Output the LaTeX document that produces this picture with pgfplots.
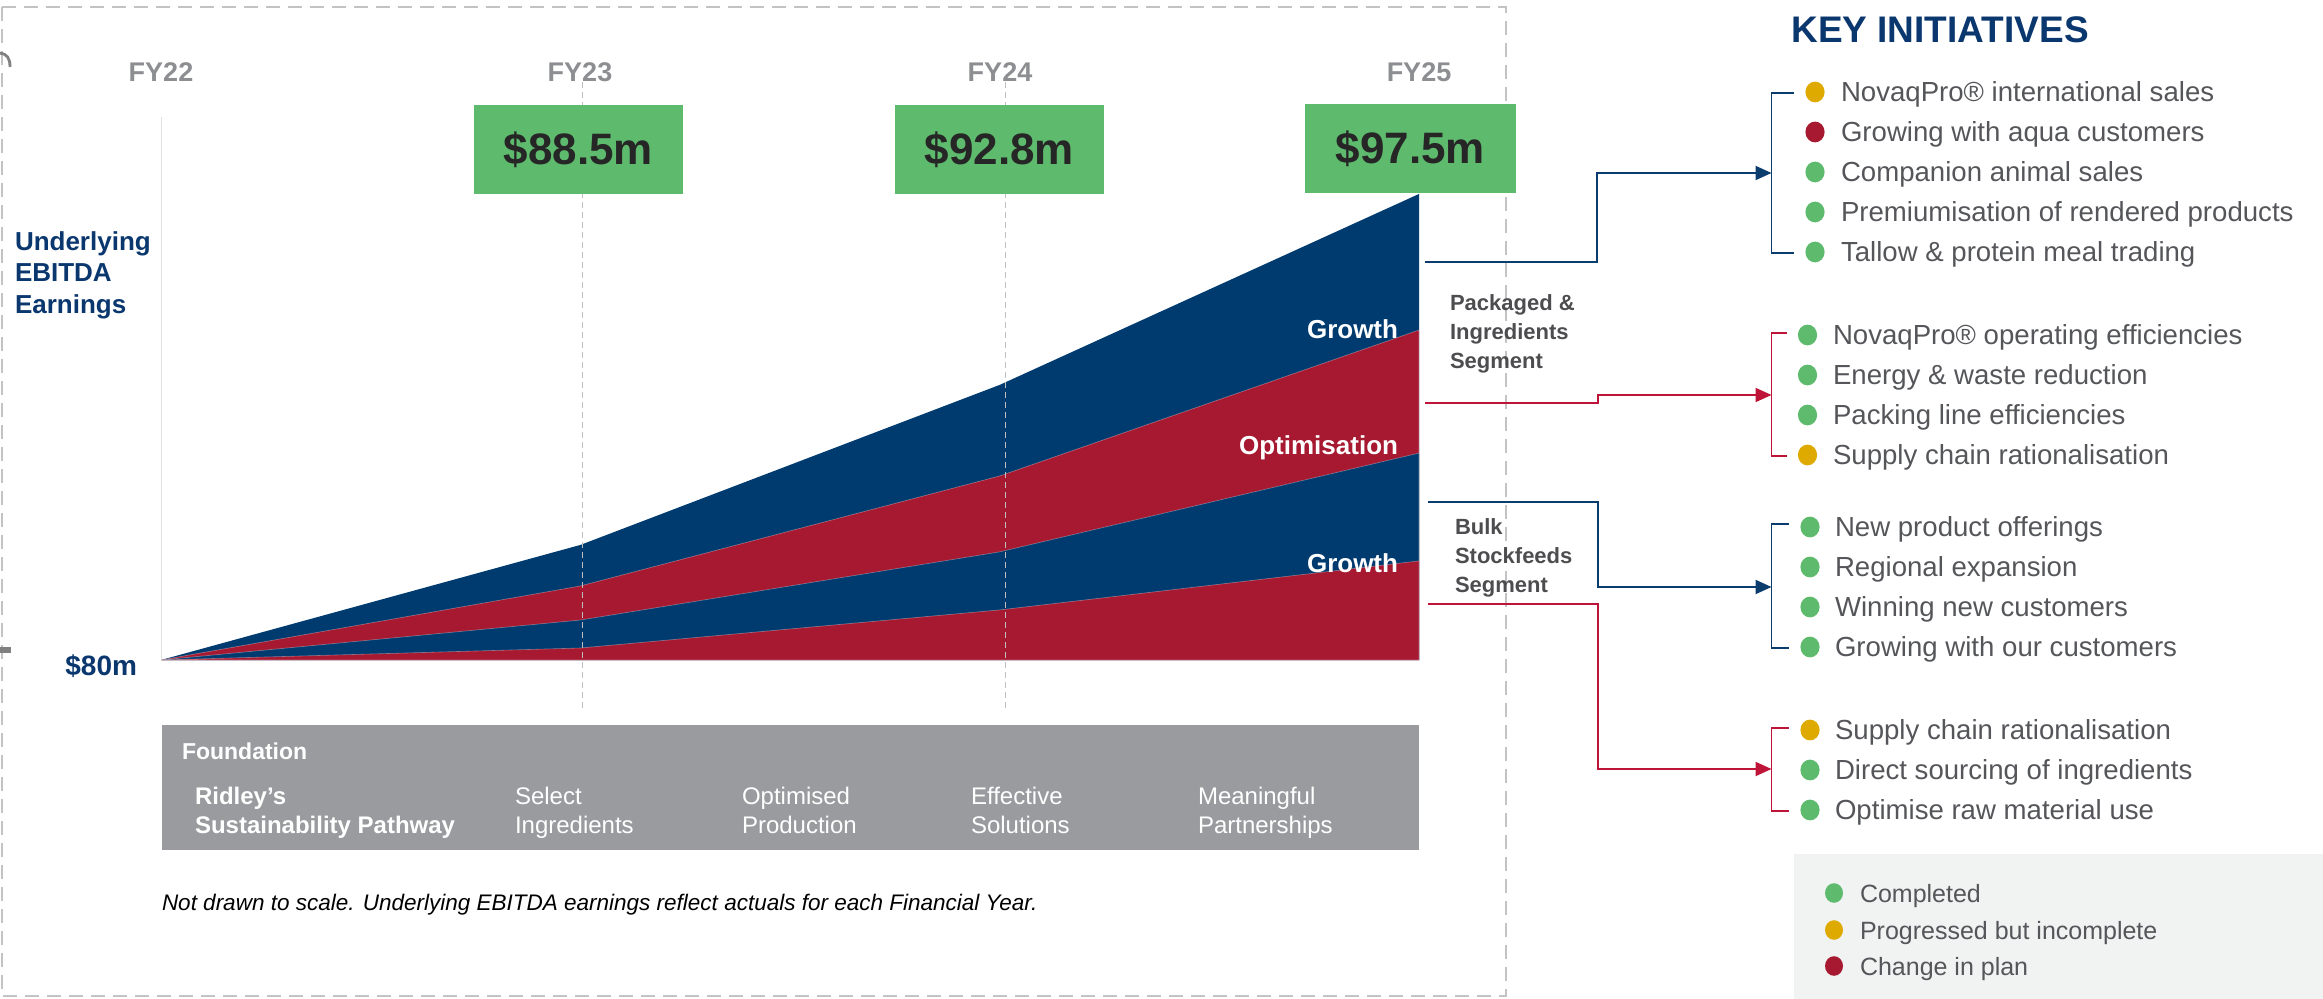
\documentclass[border=0pt]{standalone}
\usepackage{fontspec}
\setmainfont{Liberation Sans}
\usepackage{pgfplots}
\pgfplotsset{compat=1.18}
\usetikzlibrary{arrows.meta}
\definecolor{navy}{RGB}{0,59,112}
\definecolor{cred}{RGB}{166,25,48}
\definecolor{boxgreen}{RGB}{94,187,110}
\definecolor{fgray}{RGB}{153,155,158}
\definecolor{fygray}{RGB}{140,142,145}
\definecolor{listgray}{RGB}{85,86,90}
\definecolor{seggray}{RGB}{77,77,80}
\definecolor{linered}{RGB}{190,20,55}
\definecolor{lineblue}{RGB}{10,60,110}
\definecolor{ygold}{RGB}{222,170,0}
\definecolor{legbg}{RGB}{241,242,242}
\definecolor{titlenavy}{RGB}{10,55,110}
\definecolor{framegray}{RGB}{195,195,195}
\definecolor{darktext}{RGB}{38,38,38}
\newcommand{\fs}[1]{\fontsize{#1}{#1}\selectfont}
\tikzset{t/.style={inner sep=0pt, outer sep=0pt}}
\begin{document}
\begin{tikzpicture}
\begin{scope}[x=0.5pt,y=-0.5pt]
\path[use as bounding box] (0,0) rectangle (2323,999);
% frame
\draw[framegray, line width=0.75pt, dash pattern=on 7pt off 4pt] (2,7) rectangle (1506,996);
% edge artefacts
\draw[gray, line width=1.4pt] (0,53) .. controls (7,54) and (10,58) .. (10,67);
\fill[gray] (0,647) rectangle (11,653);
\end{scope}
% ---------- areas ----------
\begin{axis}[at={(80.5pt,-330pt)}, anchor=south west, scale only axis,
  width=629pt, height=271.5pt, xmin=0, xmax=3, ymin=80, ymax=100.39, hide axis]
\addplot[draw=none, fill=navy] coordinates {(0,80) (1,84.32) (2,90.33) (3,97.50)} \closedcycle;
\addplot[draw=white, draw opacity=0.35, line width=0.3pt, fill=cred] coordinates {(0,80) (1,82.78) (2,86.91) (3,92.39)} \closedcycle;
\addplot[draw=white, draw opacity=0.35, line width=0.3pt, fill=navy] coordinates {(0,80) (1,81.50) (2,84.06) (3,87.77)} \closedcycle;
\addplot[draw=white, draw opacity=0.35, line width=0.3pt, fill=cred] coordinates {(0,80) (1,80.45) (2,81.88) (3,83.72)} \closedcycle;
\draw[black!12, line width=0.6pt] (axis cs:0,80) -- (axis cs:0,100.39);
\end{axis}
\begin{scope}[x=0.5pt,y=-0.5pt]
% year dashed lines
\draw[black!25, line width=0.5pt, dash pattern=on 3pt off 2pt] (582,82) -- (582,711);
\draw[black!25, line width=0.5pt, dash pattern=on 3pt off 2pt] (1005,82) -- (1005,711);
% FY labels
\node[t, anchor=base, text=fygray, font=\fs{13.5pt}\bfseries] at (161,82) {FY22};
\node[t, anchor=base, text=fygray, font=\fs{13.5pt}\bfseries] at (580,82) {FY23};
\node[t, anchor=base, text=fygray, font=\fs{13.5pt}\bfseries] at (1000,82) {FY24};
\node[t, anchor=base, text=fygray, font=\fs{13.5pt}\bfseries] at (1419,82) {FY25};
% green boxes
\fill[boxgreen] (474,105) rectangle (683,194);
\fill[boxgreen] (895,105) rectangle (1104,194);
\fill[boxgreen] (1305,104) rectangle (1516,193);
\node[t, anchor=base, text=darktext, font=\fs{22pt}\bfseries] at (578.5,165) {\$88.5m};
\node[t, anchor=base, text=darktext, font=\fs{22pt}\bfseries] at (999.5,165) {\$92.8m};
\node[t, anchor=base, text=darktext, font=\fs{22pt}\bfseries] at (1410.5,164) {\$97.5m};
% y label
\node[t, anchor=base west, text=titlenavy, font=\fs{13pt}\bfseries] at (15,251) {Underlying};
\node[t, anchor=base west, text=titlenavy, font=\fs{13pt}\bfseries] at (15,282) {EBITDA};
\node[t, anchor=base west, text=titlenavy, font=\fs{13pt}\bfseries] at (15,314) {Earnings};
\node[t, anchor=base east, text=titlenavy, font=\fs{14pt}\bfseries] at (137,675) {\$80m};
% area labels
\node[t, anchor=base east, text=white, font=\fs{13pt}\bfseries] at (1398,339) {Growth};
\node[t, anchor=base east, text=white, font=\fs{13pt}\bfseries] at (1398,455) {Optimisation};
\node[t, anchor=base east, text=white, font=\fs{13pt}\bfseries] at (1398,573) {Growth};
% segment labels
\node[t, anchor=base west, text=seggray, font=\fs{11pt}\bfseries] at (1450,311) {Packaged \&};
\node[t, anchor=base west, text=seggray, font=\fs{11pt}\bfseries] at (1450,340) {Ingredients};
\node[t, anchor=base west, text=seggray, font=\fs{11pt}\bfseries] at (1450,369) {Segment};
\node[t, anchor=base west, text=seggray, font=\fs{11pt}\bfseries] at (1455,535) {Bulk};
\node[t, anchor=base west, text=seggray, font=\fs{11pt}\bfseries] at (1455,564) {Stockfeeds};
\node[t, anchor=base west, text=seggray, font=\fs{11pt}\bfseries] at (1455,592) {Segment};
% foundation box
\fill[fgray] (162,725) rectangle (1419,850);
\node[t, anchor=base west, text=white, font=\fs{11.5pt}\bfseries] at (182,759) {Foundation};
\node[t, anchor=base west, text=white, font=\fs{12pt}\bfseries] at (195,804) {Ridley’s};
\node[t, anchor=base west, text=white, font=\fs{12pt}\bfseries] at (195,833.5) {Sustainability Pathway};
\node[t, anchor=base west, text=white, font=\fs{12pt}] at (515,804) {Select};
\node[t, anchor=base west, text=white, font=\fs{12pt}] at (515,833.5) {Ingredients};
\node[t, anchor=base west, text=white, font=\fs{12pt}] at (742,804) {Optimised};
\node[t, anchor=base west, text=white, font=\fs{12pt}] at (742,833.5) {Production};
\node[t, anchor=base west, text=white, font=\fs{12pt}] at (971,804) {Effective};
\node[t, anchor=base west, text=white, font=\fs{12pt}] at (971,833.5) {Solutions};
\node[t, anchor=base west, text=white, font=\fs{12pt}] at (1198,804) {Meaningful};
\node[t, anchor=base west, text=white, font=\fs{12pt}] at (1198,833.5) {Partnerships};
\node[t, anchor=base west, text=black, font=\fs{11.25pt}\itshape] at (162,910) {Not drawn to scale. Underlying EBITDA earnings reflect actuals for each Financial Year.};
% connectors
\draw[lineblue, line width=1pt, -{Triangle[length=8pt,width=7pt]}] (1425,262) -- (1597,262) -- (1597,173) -- (1771.5,173);
\draw[linered, line width=1pt, -{Triangle[length=8pt,width=7pt]}] (1425,403) -- (1598,403) -- (1598,395) -- (1771.5,395);
\draw[lineblue, line width=1pt, -{Triangle[length=8pt,width=7pt]}] (1428,502) -- (1598,502) -- (1598,587) -- (1771.5,587);
\draw[linered, line width=1pt, -{Triangle[length=8pt,width=7pt]}] (1428,604) -- (1598,604) -- (1598,769) -- (1771.5,769);
% brackets
\draw[lineblue, line width=0.8pt] (1794,93) -- (1771.5,93) -- (1771.5,253) -- (1794,253);
\draw[linered, line width=0.8pt] (1787,333) -- (1771.5,333) -- (1771.5,456) -- (1787,456);
\draw[lineblue, line width=0.8pt] (1789,524) -- (1771.5,524) -- (1771.5,648) -- (1789,648);
\draw[linered, line width=0.8pt] (1789,728) -- (1771.5,728) -- (1771.5,811) -- (1789,811);
% title
\node[t, anchor=base, text=titlenavy, font=\fs{18.5pt}\bfseries] at (1940,43) {KEY INITIATIVES};
% group 1
\fill[ygold] (1815,92) circle[x radius=4.8pt, y radius=5.2pt];
\fill[cred] (1815,132) circle[x radius=4.8pt, y radius=5.2pt];
\fill[boxgreen] (1815,172) circle[x radius=4.8pt, y radius=5.2pt];
\fill[boxgreen] (1815,212) circle[x radius=4.8pt, y radius=5.2pt];
\fill[boxgreen] (1815,252) circle[x radius=4.8pt, y radius=5.2pt];
\node[t, anchor=base west, text=listgray, font=\fs{13.8pt}] at (1841,101.5) {NovaqPro® international sales};
\node[t, anchor=base west, text=listgray, font=\fs{13.8pt}] at (1841,141.5) {Growing with aqua customers};
\node[t, anchor=base west, text=listgray, font=\fs{13.8pt}] at (1841,181.5) {Companion animal sales};
\node[t, anchor=base west, text=listgray, font=\fs{13.8pt}] at (1841,221.5) {Premiumisation of rendered products};
\node[t, anchor=base west, text=listgray, font=\fs{13.8pt}] at (1841,261.5) {Tallow \& protein meal trading};
% group 2
\fill[boxgreen] (1807.5,335) circle[x radius=4.8pt, y radius=5.2pt];
\fill[boxgreen] (1807.5,375) circle[x radius=4.8pt, y radius=5.2pt];
\fill[boxgreen] (1807.5,415) circle[x radius=4.8pt, y radius=5.2pt];
\fill[ygold] (1807.5,455) circle[x radius=4.8pt, y radius=5.2pt];
\node[t, anchor=base west, text=listgray, font=\fs{13.8pt}] at (1833,344.5) {NovaqPro® operating efficiencies};
\node[t, anchor=base west, text=listgray, font=\fs{13.8pt}] at (1833,384.5) {Energy \& waste reduction};
\node[t, anchor=base west, text=listgray, font=\fs{13.8pt}] at (1833,424.5) {Packing line efficiencies};
\node[t, anchor=base west, text=listgray, font=\fs{13.8pt}] at (1833,464.5) {Supply chain rationalisation};
% group 3
\fill[boxgreen] (1810,527) circle[x radius=4.8pt, y radius=5.2pt];
\fill[boxgreen] (1810,567) circle[x radius=4.8pt, y radius=5.2pt];
\fill[boxgreen] (1810,607) circle[x radius=4.8pt, y radius=5.2pt];
\fill[boxgreen] (1810,647) circle[x radius=4.8pt, y radius=5.2pt];
\node[t, anchor=base west, text=listgray, font=\fs{13.8pt}] at (1835,536.5) {New product offerings};
\node[t, anchor=base west, text=listgray, font=\fs{13.8pt}] at (1835,576.5) {Regional expansion};
\node[t, anchor=base west, text=listgray, font=\fs{13.8pt}] at (1835,616.5) {Winning new customers};
\node[t, anchor=base west, text=listgray, font=\fs{13.8pt}] at (1835,656.5) {Growing with our customers};
% group 4
\fill[ygold] (1810,730) circle[x radius=4.8pt, y radius=5.2pt];
\fill[boxgreen] (1810,770) circle[x radius=4.8pt, y radius=5.2pt];
\fill[boxgreen] (1810,810) circle[x radius=4.8pt, y radius=5.2pt];
\node[t, anchor=base west, text=listgray, font=\fs{13.8pt}] at (1835,739.5) {Supply chain rationalisation};
\node[t, anchor=base west, text=listgray, font=\fs{13.8pt}] at (1835,779.5) {Direct sourcing of ingredients};
\node[t, anchor=base west, text=listgray, font=\fs{13.8pt}] at (1835,819.5) {Optimise raw material use};
% legend
\fill[legbg] (1794,854) rectangle (2323,999);
\fill[boxgreen] (1834,893) circle[x radius=4.5pt, y radius=4.9pt];
\fill[ygold] (1834,930) circle[x radius=4.5pt, y radius=4.9pt];
\fill[cred] (1834,966) circle[x radius=4.5pt, y radius=4.9pt];
\node[t, anchor=base west, text=listgray, font=\fs{12.5pt}] at (1860,902) {Completed};
\node[t, anchor=base west, text=listgray, font=\fs{12.5pt}] at (1860,939) {Progressed but incomplete};
\node[t, anchor=base west, text=listgray, font=\fs{12.5pt}] at (1860,975) {Change in plan};
\end{scope}
\end{tikzpicture}
\end{document}
